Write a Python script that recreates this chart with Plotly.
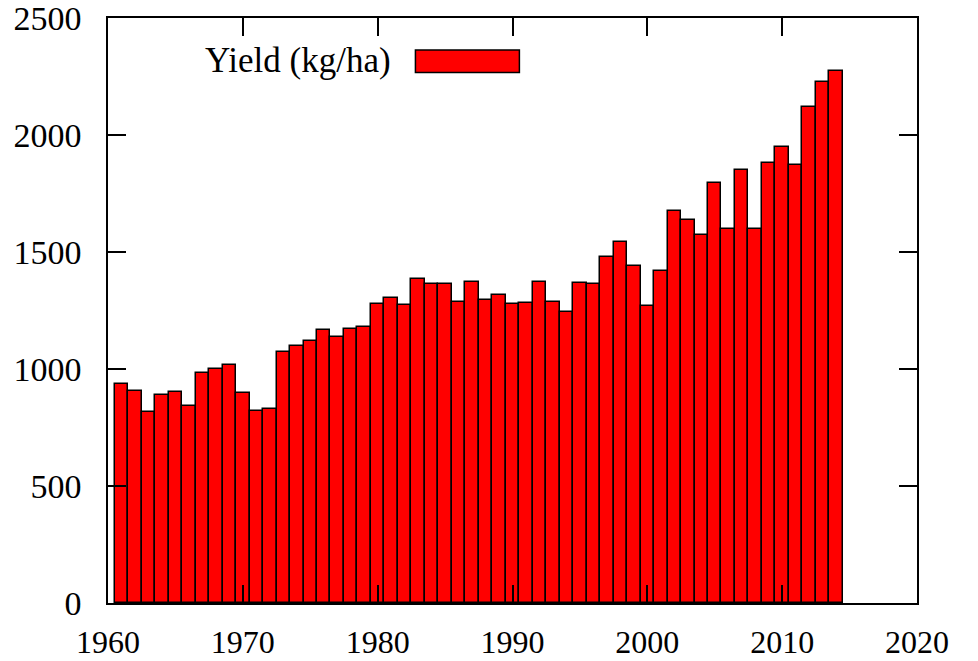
import plotly.graph_objects as go

years = list(range(1961, 2015))
yield_kg_ha = [
    935, 908, 815, 890, 902, 844, 983, 999, 1019, 899,
    821, 831, 1074, 1097, 1118, 1168, 1137, 1173, 1178, 1276,
    1302, 1272, 1383, 1362, 1365, 1286, 1372, 1295, 1318, 1279,
    1282, 1370, 1288, 1242, 1366, 1362, 1479, 1541, 1442, 1269,
    1418, 1677, 1636, 1572, 1796, 1600, 1852, 1598, 1880, 1947,
    1872, 2120, 2227, 2274,
]
legend_label = "Yield (kg/ha)"

FONT = "Liberation Serif"
W, H = 978, 661
L, R, T, B = 107.5, 916.7, 18, 603

fig = go.Figure()
fig.add_trace(go.Bar(
    x=years, y=yield_kg_ha, width=1,
    marker=dict(color="#ff0000", line=dict(color="black", width=1.5)),
    name=legend_label, showlegend=False, hoverinfo="skip",
))

def px_x(p):
    return (p - L) / (R - L)

def px_y(p):
    return (B - p) / (B - T)

axis_common = dict(
    showline=True, linecolor="black", linewidth=1.5, mirror="ticks",
    ticks="inside", ticklen=18, tickwidth=1.5, tickcolor="black",
    showgrid=False, zeroline=False, automargin=False,
    ticklabeloverflow="allow",
)

fig.update_layout(
    width=W, height=H,
    margin=dict(l=L, r=W - R, t=T, b=H - B, pad=0),
    plot_bgcolor="white", paper_bgcolor="white",
    bargap=0,
    xaxis=dict(range=[1960, 2020], dtick=10, tick0=1960, ticklabelstandoff=10,
               tickfont=dict(family=FONT, size=32, color="black"), **axis_common),
    yaxis=dict(range=[0, 2500], dtick=500, ticklabelstandoff=18,
               tickfont=dict(family=FONT, size=34, color="black"), **axis_common),
    annotations=[dict(
        x=px_x(393), y=px_y(61), xref="paper", yref="paper",
        xanchor="right", yanchor="middle", showarrow=False,
        text=legend_label, font=dict(family=FONT, size=35, color="black"),
    )],
    shapes=[dict(
        type="rect", xref="paper", yref="paper",
        x0=px_x(415), x1=px_x(519), y0=px_y(72.5), y1=px_y(50),
        fillcolor="#ff0000", line=dict(color="black", width=1.5),
    )],
)

fig.write_html(
    "out.html",
    config={"displayModeBar": False},
    post_script="document.body.style.margin='0';document.body.style.overflow='hidden';",
)
